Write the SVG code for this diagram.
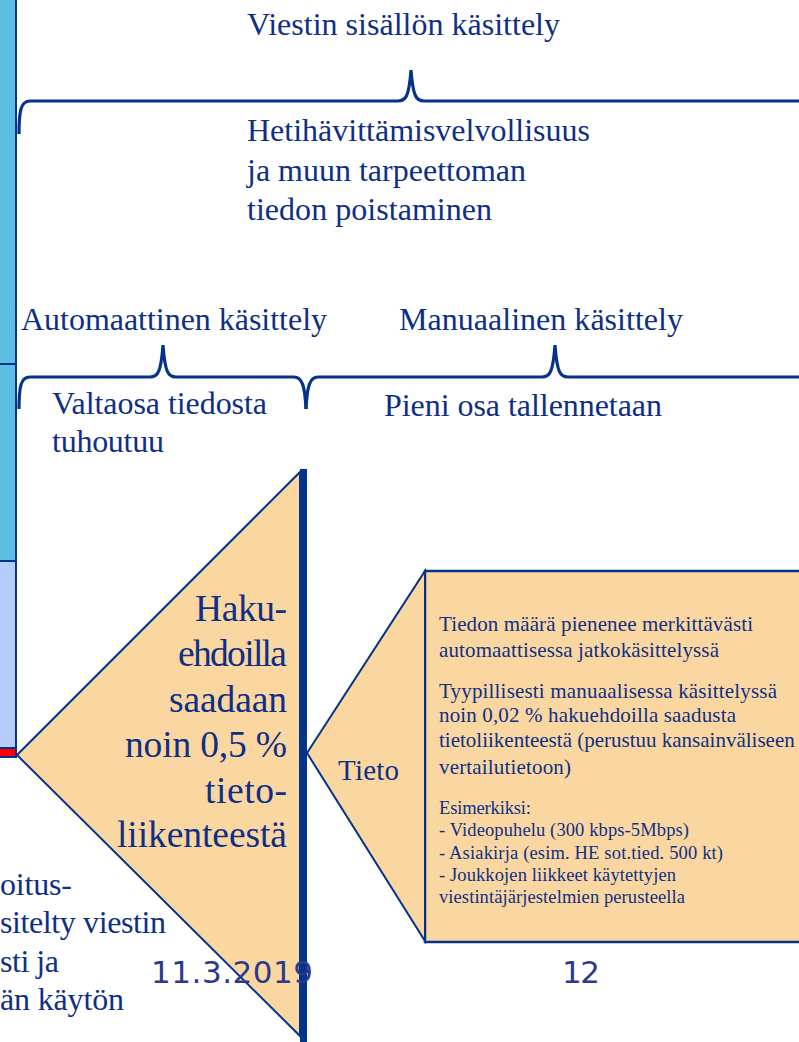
<svg xmlns="http://www.w3.org/2000/svg" width="799" height="1042" viewBox="0 0 799 1042">
<style>
.t{font-family:"Liberation Serif","Times New Roman",Times,serif;fill:#0f2f86;}
.br{fill:none;stroke:#06338a;stroke-width:3.2;stroke-linecap:butt;}
.f{font-family:"DejaVu Sans",Verdana,sans-serif;fill:#2b3a8c;font-size:31px;}
</style>
<rect width="799" height="1042" fill="#ffffff"/>
<g id="sidebar">
<rect x="-2" y="-2" width="18" height="366" fill="#5bbfe4" stroke="#06338a" stroke-width="2"/>
<rect x="-2" y="364" width="18" height="197" fill="#5bbfe4" stroke="#06338a" stroke-width="2"/>
<rect x="-2" y="561" width="18" height="187" fill="#b4cdfa" stroke="#06338a" stroke-width="2"/>
<rect x="-2" y="748" width="18" height="9" fill="#ff0000" stroke="#06338a" stroke-width="2"/>
</g>
<g id="triangle1">
<polygon points="17,755 300,472 300,1036" fill="#fad7a0" stroke="#06338a" stroke-width="2"/>
<g class="t" font-size="37.5" text-anchor="end">
<text x="287" y="621" textLength="92">Haku-</text>
<text x="287" y="666" textLength="109">ehdoilla</text>
<text x="287" y="712" textLength="118">saadaan</text>
<text x="287" y="757" textLength="162">noin 0,5 %</text>
<text x="287" y="803" textLength="82">tieto-</text>
<text x="287" y="847" textLength="170">liikenteestä</text>
</g>
</g>
<g id="box">
<rect x="425" y="571" width="380" height="371" fill="#fad7a0" stroke="#06338a" stroke-width="2.5"/>
<g class="t" font-size="21">
<text x="439" y="631" textLength="314">Tiedon määrä pienenee merkittävästi</text>
<text x="439" y="657" textLength="280">automaattisessa jatkokäsittelyssä</text>
<text x="439" y="698" textLength="338">Tyypillisesti manuaalisessa käsittelyssä</text>
<text x="439" y="722" textLength="297">noin 0,02 % hakuehdoilla saadusta</text>
<text x="439" y="747">tietoliikenteestä (perustuu kansainväliseen</text>
<text x="439" y="774" textLength="132">vertailutietoon)</text>
</g>
<g class="t" font-size="18.5">
<text x="439" y="814" textLength="92">Esimerkiksi:</text>
<text x="439" y="836" textLength="250">- Videopuhelu (300 kbps-5Mbps)</text>
<text x="439" y="859" textLength="284">- Asiakirja (esim. HE sot.tied. 500 kt)</text>
<text x="439" y="881" textLength="237">- Joukkojen liikkeet käytettyjen</text>
<text x="439" y="903" textLength="246">viestintäjärjestelmien perusteella</text>
</g>
</g>
<g id="tieto">
<polygon points="307,753 425,571 425,941" fill="#fad7a0" stroke="#06338a" stroke-width="2"/>
<text class="t" x="338" y="780" font-size="29" textLength="61">Tieto</text>
</g>
<g id="connectors">
<line x1="303.5" y1="469" x2="303.5" y2="1042" stroke="#06338a" stroke-width="7"/>
<path class="br" d="M19,134 C19,110 21,101 30,101 L398,101 C406,101 409,96 411,70 C413,96 416,101 424,101 L802,101"/>
<path class="br" d="M19,409 C19,386 21,377 30,377 L150,377 C158,377 161,372 163,345 C165,372 168,377 176,377 L294,377 C302,377 305,386 306,409"/>
<path class="br" d="M306,409 C307,386 310,377 318,377 L542,377 C550,377 553,372 555,345 C557,372 560,377 568,377 L802,377"/>
</g>
<g id="labels" class="t" font-size="32">
<text x="247" y="35" textLength="313">Viestin sisällön käsittely</text>
<text x="247" y="141" textLength="343">Hetihävittämisvelvollisuus</text>
<text x="247" y="181" textLength="279">ja muun tarpeettoman</text>
<text x="247" y="220" textLength="245">tiedon poistaminen</text>
<text x="21" y="330" textLength="306">Automaattinen käsittely</text>
<text x="399" y="330" textLength="284">Manuaalinen käsittely</text>
<text x="52" y="414" textLength="215">Valtaosa tiedosta</text>
<text x="52" y="452" textLength="112">tuhoutuu</text>
<text x="384" y="416" textLength="278">Pieni osa tallennetaan</text>
<text x="0" y="895" textLength="72">oitus-</text>
<text x="0" y="933" textLength="166">sitelty viestin</text>
<text x="0" y="972" textLength="59">sti ja</text>
<text x="0" y="1010" textLength="124">än käytön</text>
</g>
<g id="footer">
<text class="f" x="151" y="983" textLength="162">11.3.2019</text>
<text class="f" x="562" y="983" textLength="38">12</text>
</g>
</svg>
